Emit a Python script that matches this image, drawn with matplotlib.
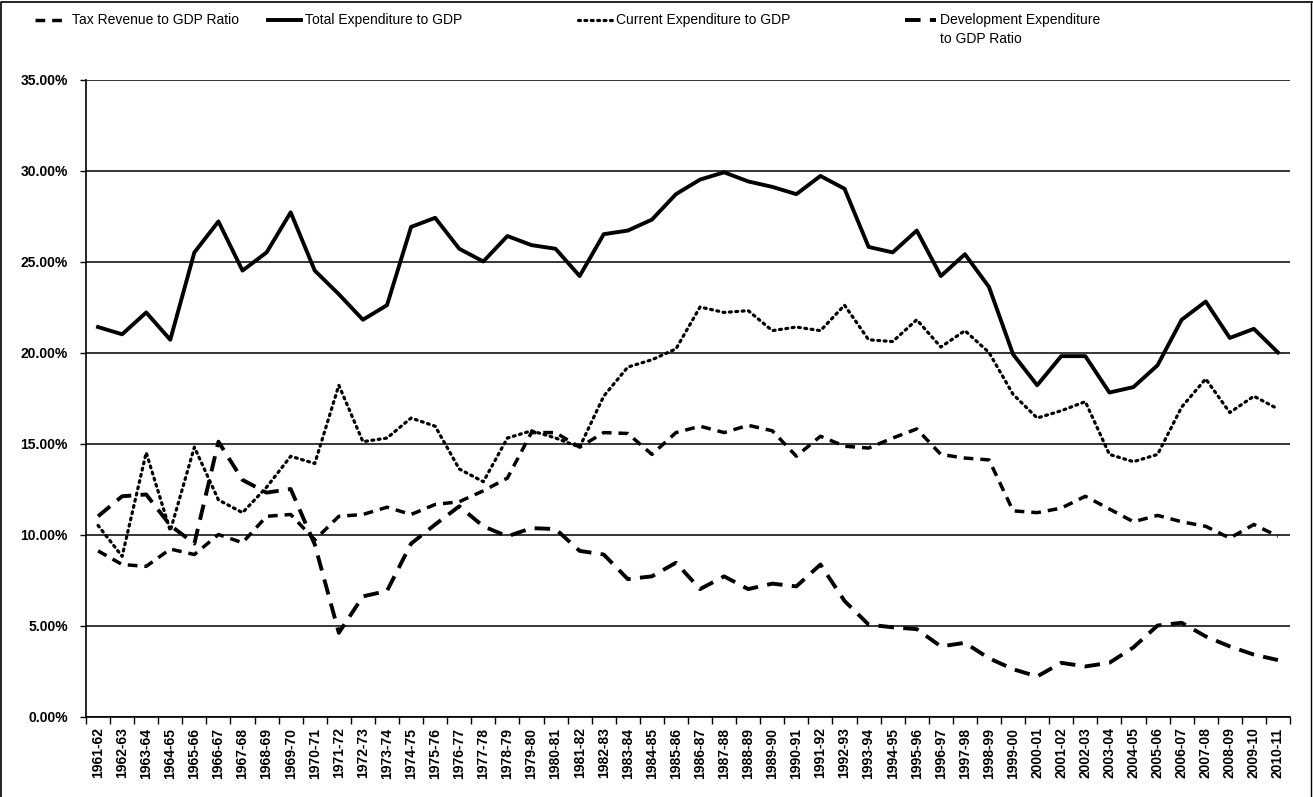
import matplotlib
matplotlib.use("Agg")
import matplotlib.pyplot as plt
from matplotlib.lines import Line2D
from matplotlib.ticker import FixedLocator, FuncFormatter

years = ["1961-62","1962-63","1963-64","1964-65","1965-66","1966-67","1967-68","1968-69","1969-70","1970-71",
         "1971-72","1972-73","1973-74","1974-75","1975-76","1976-77","1977-78","1978-79","1979-80","1980-81",
         "1981-82","1982-83","1983-84","1984-85","1985-86","1986-87","1987-88","1988-89","1989-90","1990-91",
         "1991-92","1992-93","1993-94","1994-95","1995-96","1996-97","1997-98","1998-99","1999-00","2000-01",
         "2001-02","2002-03","2003-04","2004-05","2005-06","2006-07","2007-08","2008-09","2009-10","2010-11"]

tax_revenue = [9.1, 8.35, 8.25, 9.2, 8.9, 10.0, 9.55, 11.0, 11.1, 9.7,
               11.0, 11.1, 11.5, 11.1, 11.65, 11.8, 12.4, 13.1, 15.6, 15.6,
               14.8, 15.6, 15.55, 14.4, 15.6, 15.95, 15.6, 16.0, 15.7, 14.3,
               15.4, 14.85, 14.75, 15.3, 15.8, 14.4, 14.2, 14.1, 11.3, 11.2,
               11.45, 12.1, 11.4, 10.7, 11.05, 10.7, 10.45, 9.8, 10.55, 9.9]

total_expenditure = [21.4, 21.0, 22.2, 20.7, 25.5, 27.2, 24.5, 25.5, 27.7, 24.5,
                     23.2, 21.8, 22.6, 26.9, 27.4, 25.7, 25.0, 26.4, 25.9, 25.7,
                     24.2, 26.5, 26.7, 27.3, 28.7, 29.5, 29.9, 29.4, 29.1, 28.7,
                     29.7, 29.0, 25.8, 25.5, 26.7, 24.2, 25.4, 23.6, 19.9, 18.2,
                     19.8, 19.8, 17.8, 18.1, 19.3, 21.8, 22.8, 20.8, 21.3, 20.0]

current_expenditure = [10.5, 8.8, 14.5, 10.2, 14.8, 11.9, 11.2, 12.6, 14.3, 13.9,
                       18.2, 15.1, 15.3, 16.4, 15.95, 13.6, 12.9, 15.3, 15.7, 15.3,
                       14.8, 17.6, 19.2, 19.6, 20.2, 22.5, 22.2, 22.3, 21.2, 21.4,
                       21.2, 22.6, 20.7, 20.6, 21.8, 20.3, 21.2, 20.0, 17.7, 16.4,
                       16.8, 17.3, 14.4, 14.0, 14.4, 17.0, 18.55, 16.7, 17.6, 16.9]

development_expenditure = [11.0, 12.1, 12.2, 10.5, 9.5, 15.1, 13.0, 12.3, 12.5, 9.45,
                           4.6, 6.6, 6.9, 9.5, 10.55, 11.55, 10.45, 9.9, 10.35, 10.3,
                           9.1, 8.9, 7.55, 7.7, 8.45, 7.0, 7.7, 7.0, 7.3, 7.15,
                           8.35, 6.35, 5.05, 4.9, 4.8, 3.85, 4.05, 3.2, 2.6, 2.2,
                           2.95, 2.75, 2.95, 3.8, 5.0, 5.15, 4.4, 3.85, 3.4, 3.1]

y_ticks = [0, 5, 10, 15, 20, 25, 30, 35]

plt.rcParams['font.family'] = ['Liberation Sans', 'DejaVu Sans']

W, H = 1313, 797
fig = plt.figure(figsize=(W / 100, H / 100), dpi=100)
fig.patch.set_facecolor('white')

ax = fig.add_axes([86 / W, 1 - 716.5 / H, (1290 - 86) / W, (716.5 - 79.5) / H])

x = list(range(len(years)))

styles = {
    'tax': dict(color='black', lw=2.5, linestyle=(0, (2.8, 2.0)), dash_capstyle='butt'),
    'tot': dict(color='black', lw=2.8, linestyle='-'),
    'cur': dict(color='black', lw=2.3, linestyle=(0, (0.6, 1.4)), dash_capstyle='round'),
    'dev': dict(color='black', lw=2.8, linestyle=(0, (4.0, 2.4)), dash_capstyle='butt'),
}

ax.plot(x, tax_revenue, zorder=4, **styles['tax'])
ax.plot(x, total_expenditure, zorder=4, **styles['tot'])
ax.plot(x, current_expenditure, zorder=4, **styles['cur'])
ax.plot(x, development_expenditure, zorder=4, **styles['dev'])

ax.set_xlim(-0.5, len(years) - 0.5)
ax.set_ylim(0, 35)

ax.yaxis.set_major_locator(FixedLocator(y_ticks))
ax.yaxis.set_major_formatter(FuncFormatter(lambda v, p: f"{v:.2f}%"))
ax.grid(axis='y', color='black', linewidth=1.1, zorder=1)
ax.set_axisbelow(True)

ax.set_xticks(x)
ax.set_xticklabels(years, rotation=90, fontsize=10, fontweight='bold')
ax.set_xticks([i - 0.5 for i in range(len(years) + 1)], minor=True)
ax.tick_params(axis='x', which='major', length=0, pad=8)
ax.tick_params(axis='x', which='minor', length=5, width=1.0, direction='out', color='black')
ax.tick_params(axis='y', which='major', length=4, width=1.0, direction='out', labelsize=10, pad=9)
for lab in ax.get_yticklabels():
    lab.set_fontweight('bold')

for s in ['top', 'right']:
    ax.spines[s].set_visible(False)
ax.spines['left'].set_linewidth(1.2)
ax.spines['bottom'].set_linewidth(1.2)

# legend drawn across the top (handles + labels)
legend_entries = [
    ('tax', 'Tax Revenue to GDP Ratio', 35, 68),
    ('tot', 'Total Expenditure to GDP', 268, 301),
    ('cur', 'Current Expenditure to GDP', 578, 612),
    ('dev', 'Development Expenditure\nto GDP Ratio', 905, 936),
]
yc = 20
for key, label, x0, x1 in legend_entries:
    fig.add_artist(Line2D([x0 / W, x1 / W], [1 - yc / H, 1 - yc / H],
                          transform=fig.transFigure, **styles[key]))
    fig.text((x1 + 4) / W, 1 - (yc - 7) / H, label, fontsize=10, va='top', ha='left',
             linespacing=1.45)

# outer frame
fig.add_artist(Line2D([1 / W, 1 / W, 1312 / W], [0, 1 - 2 / H, 1 - 2 / H],
                      transform=fig.transFigure, color='black', lw=1.2))
fig.add_artist(Line2D([1311 / W, 1311 / W], [1 - 2 / H, 0],
                      transform=fig.transFigure, color='black', lw=1.0))

fig.savefig('out.png', dpi=100, facecolor='white')
